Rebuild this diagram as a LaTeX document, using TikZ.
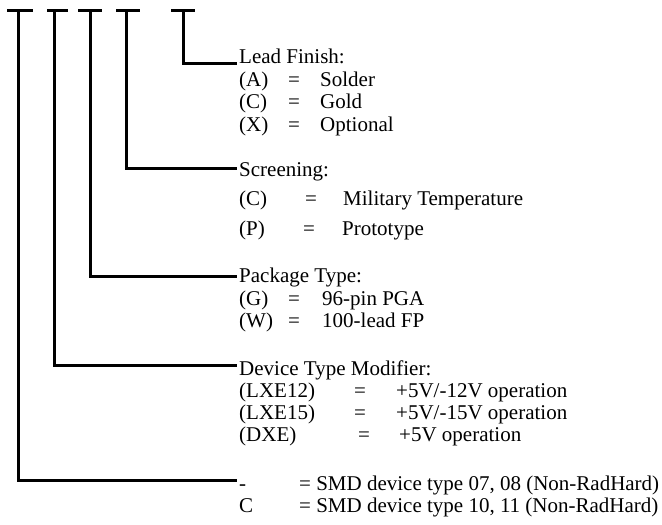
\documentclass[tikz,border=0pt]{standalone}
\usepackage{fontspec}
\setmainfont{Liberation Serif}
\begin{document}
\begin{tikzpicture}[x=1pt,y=-1pt,
  wire/.style={line width=3pt},
  lbl/.style={anchor=base west, inner sep=0pt, font=\fontsize{21}{23}\selectfont}]
\useasboundingbox (0,0) rectangle (662,525);
% top bars
\foreach \n/\a/\b/\c in {1/7/18/33, 2/47/54/68, 3/78/90/102, 4/116/126/140, 5/171/183/195}{
  \draw[wire] (\a,10) -- (\c,10);
  \coordinate (b\n) at (\b,10);
}
% end points of connectors
\coordinate (e5) at (237,63);
\coordinate (e4) at (237,168);
\coordinate (e3) at (237,276);
\coordinate (e2) at (237,365);
\coordinate (e1) at (237,480);
\draw[wire] (b5) |- (e5);
\draw[wire] (b4) |- (e4);
\draw[wire] (b3) |- (e3);
\draw[wire] (b2) |- (e2);
\draw[wire] (b1) |- (e1);
% Lead finish
\node[lbl] (lf) at (239,63) {Lead Finish:};
\node[lbl] (lfa) at (239,86) {(A)};
\node[lbl] (lfae) at (288,86) {=};
\node[lbl] (lfav) at (320,86) {Solder};
\node[lbl] (lfc) at (239,108) {(C)};
\node[lbl] (lfce) at (288,108) {=};
\node[lbl] (lfcv) at (320,108) {Gold};
\node[lbl] (lfx) at (239,131) {(X)};
\node[lbl] (lfxe) at (288,131) {=};
\node[lbl] (lfxv) at (320,131) {Optional};
% Screening
\node[lbl] (sc) at (239,176) {Screening:};
\node[lbl] (scc) at (239,205) {(C)};
\node[lbl] (scce) at (305,205) {=};
\node[lbl] (sccv) at (343,205) {Military Temperature};
\node[lbl] (scp) at (239,235) {(P)};
\node[lbl] (scpe) at (303,235) {=};
\node[lbl] (scpv) at (342,235) {Prototype};
% Package
\node[lbl] (pk) at (239,282) {Package Type:};
\node[lbl] (pkg) at (239,305) {(G)};
\node[lbl] (pkge) at (288,305) {=};
\node[lbl] (pkgv) at (322,305) {96-pin PGA};
\node[lbl] (pkw) at (239,327) {(W)};
\node[lbl] (pkwe) at (288,327) {=};
\node[lbl] (pkwv) at (322,327) {100-lead FP};
% Device type modifier
\node[lbl] (dm) at (239,375) {Device Type Modifier:};
\node[lbl] (dm1) at (239,397) {(LXE12)};
\node[lbl] (dm1e) at (354,397) {=};
\node[lbl] (dm1v) at (396,397) {+5V/-12V operation};
\node[lbl] (dm2) at (239,419) {(LXE15)};
\node[lbl] (dm2e) at (354,419) {=};
\node[lbl] (dm2v) at (396,419) {+5V/-15V operation};
\node[lbl] (dm3) at (239,441) {(DXE)};
\node[lbl] (dm3e) at (358,441) {=};
\node[lbl] (dm3v) at (399,441) {+5V operation};
% SMD
\node[lbl] (sm1) at (239,490) {-};
\node[lbl] (sm1v) at (299,490) {= SMD device type 07, 08 (Non-RadHard)};
\node[lbl] (sm2) at (239,512) {C};
\node[lbl] (sm2v) at (299,512) {= SMD device type 10, 11 (Non-RadHard)};
\end{tikzpicture}
\end{document}
